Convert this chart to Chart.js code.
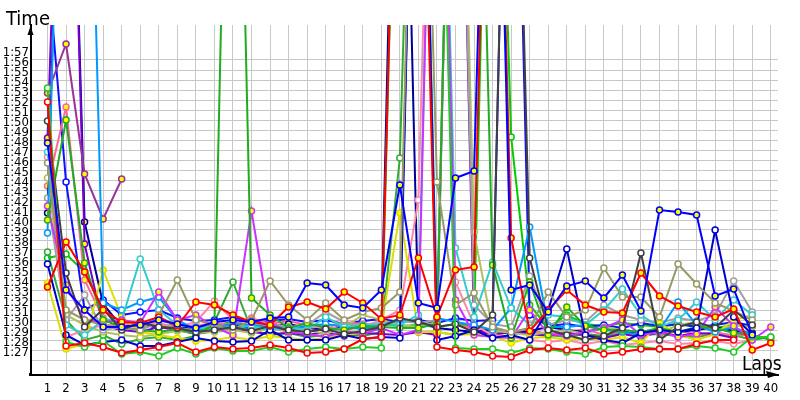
<!DOCTYPE html>
<html>
<head>
<meta charset="utf-8">
<script src="https://cdn.jsdelivr.net/npm/chart.js@4.4.1/dist/chart.umd.min.js"></script>
<style>
  html, body { margin: 0; padding: 0; background: #fff; }
</style>
</head>
<body>
<canvas id="laps" width="800" height="400"></canvas>
<script>
const laps = [1, 2, 3, 4, 5, 6, 7, 8, 9, 10, 11, 12, 13, 14, 15, 16, 17, 18, 19, 20,
  21, 22, 23, 24, 25, 26, 27, 28, 29, 30, 31, 32, 33, 34, 35, 36, 37, 38, 39, 40];

// y tick marks, in seconds (1:27 .. 1:57)
const timeTicks = [87, 88, 89, 90, 91, 92, 93, 94, 95, 96, 97, 98, 99, 100, 101, 102,
  103, 104, 105, 106, 107, 108, 109, 110, 111, 112, 113, 114, 115, 116, 117];

// lap times in seconds, one array per driver (values above ~120 run off the top)
const blueY = [108.7, 94.0, 92.0, 90.3, 90.3, 90.5, 91.0, 90.6, 90.2, 90.8, 91.0, 90.8, 91.2, 91.3, 94.7, 94.5, 92.5, 92.2, 94.0, 104.5, 92.7, 92.2, 105.2, 105.9, 170, 94.0, 94.5, 91.8, 94.4, 94.9, 93.2, 95.5, 91.9, 102.0, 101.8, 101.5, 93.4, 94.1, 89.5, null];
const redLow = [112.8, 88.4, 88.7, 88.3, 87.7, 88.0, 88.3, 88.7, 87.8, 88.3, 88.1, 88.2, 88.5, 88.2, 87.7, 87.8, 88.1, 89.1, 89.3, 160, 160, 88.3, 88.0, 87.8, 87.4, 87.3, 88.0, 88.2, 88.0, 88.2, 87.6, 87.8, 88.1, 88.1, 88.1, 88.6, 89.0, 89.0, null, null];
const greenLow = [114.2, 88.8, 88.3, 88.9, 87.6, 87.8, 87.4, 88.2, 87.6, 88.2, 87.9, 87.9, 88.3, 87.8, 88.1, 88.3, 88.1, 88.3, 88.2, 160, 160, 160, 88.2, 88.1, 88.1, 87.7, 88.2, 88.1, 87.8, 87.6, 88.3, 88.4, 88.3, 88.1, 88.1, 88.4, 88.2, 87.8, 89.3, 89.3];
const redY = [94.3, 98.8, 95.8, 92.0, 90.8, 90.7, 91.3, 90.4, 92.8, 92.5, 91.5, 90.8, 90.5, 92.3, 92.8, 92.1, 93.8, 92.7, 91.1, 91.5, 97.2, 91.3, 96.0, 96.3, 170, 99.2, 89.9, 92.0, 94.0, 92.5, 91.8, 91.7, 95.7, 93.4, 92.4, 91.8, 91.3, 92.1, 88.0, 88.7];
const olive = [106.7, 92.0, 91.0, 90.5, 90.2, 90.0, 91.5, 95.0, 91.0, 90.5, 90.0, 91.0, 94.9, 92.5, 91.0, 92.7, 91.0, 91.8, 92.2, 93.8, 170, 104.8, 92.5, 93.7, 90.3, 89.8, 90.2, 93.8, 91.3, 92.0, 96.2, 93.3, 93.3, 91.3, 96.6, 94.6, 92.7, 91.9, 91.0, null];
const darkGray = [110.9, 95.7, 90.3, 92.1, 90.0, 90.8, 90.3, 90.2, 89.8, 90.0, 90.3, 89.9, 90.4, 90.0, 89.8, 90.1, 89.6, 89.9, 90.3, 91.2, 90.8, 90.3, 90.6, 89.8, 91.5, 170, 97.2, 90.0, 89.5, 89.0, 89.4, 90.2, 97.7, 89.0, 90.3, 90.8, 90.2, 92.0, 90.5, null];
const cyan = [107.8, 90.5, 89.5, 91.0, 91.0, 97.1, 92.0, 90.5, 90.3, 90.0, 90.2, 90.4, 90.0, 90.3, 90.0, 91.3, 90.3, 90.5, 90.6, 90.5, 91.5, 170, 98.2, 91.3, 96.8, 92.2, 90.5, 91.5, 91.3, 90.5, 92.0, 94.1, 91.5, 90.3, 91.0, 92.8, 91.0, 93.0, 91.5, null];
const skyBlue = [99.7, 165, 165, 92.7, 92.0, 92.8, 93.3, 91.0, 90.0, 90.2, 90.6, 90.5, 90.3, 90.0, 90.4, 90.6, 90.3, 90.1, 90.5, 91.0, 170, 91.2, 90.8, 90.5, 90.0, 92.2, 100.3, 90.3, 90.3, 90.5, 90.0, 89.8, 89.5, 90.0, 92.8, 90.5, 89.8, 90.3, 89.5, null];
const greenY = [101.0, 111.0, 96.7, 91.0, 90.3, 90.0, 89.8, 90.1, 89.6, 90.5, 175, 93.2, 91.5, 90.2, 90.7, 90.2, 90.0, 90.4, 90.3, 90.2, 90.2, 90.6, 170, 170, 96.5, 89.2, 94.8, 89.5, 92.3, 90.4, 90.0, 90.0, 89.8, 90.2, 89.8, 90.3, 90.2, 89.7, 89.5, 89.0];
const magenta = [102.4, 94.5, 91.0, 90.8, 91.0, 90.7, 93.8, 91.0, 91.5, 90.3, 89.5, 101.9, 90.7, 89.8, 89.6, 89.3, 89.9, 89.6, 90.2, 89.5, 90.0, 170, 93.0, 89.5, 89.3, 89.2, 92.0, 89.6, 89.4, 89.8, 90.2, 91.0, 89.5, 89.8, 89.3, 89.6, 92.3, 90.4, 89.0, 90.3];
const yellow = [94.7, 88.1, 88.6, 96.0, 91.3, 89.8, 89.5, 89.2, 88.9, 89.0, 89.3, 89.0, 89.4, 89.2, 89.0, 89.2, 89.5, 89.7, 90.3, 101.7, 89.8, 89.8, 89.5, 89.6, 89.4, 88.7, 89.2, 89.3, 89.0, 89.2, 89.0, 89.3, 88.7, 90.7, 89.5, 89.0, 89.6, 91.0, 91.5, null];
const purple = [113.7, 118.6, 105.6, 101.1, 105.1, null, null, null, null, null, null, null, null, null, null, null, null, null, null, null, null, null, null, null, null, null, null, null, null, null, null, null, null, null, null, null, null, null, null, null];
const blueW = [96.6, 89.5, 88.5, 88.8, 89.0, 88.4, 88.4, 88.8, 89.2, 88.9, 88.8, 88.9, 90.0, 89.0, 89.0, 89.0, 89.5, 89.1, 89.3, 89.2, 170, 89.0, 89.4, 90.0, 89.2, 89.5, 89.0, 92.0, 98.1, 89.5, 89.0, 88.7, 89.7, 90.0, 89.8, 90.2, 100.0, 91.3, 89.6, null];
const pink = [107.3, 89.3, 90.0, 90.5, 90.5, 90.8, 90.5, 90.3, 90.8, 92.9, 91.0, 90.8, 90.3, 90.0, 90.2, 90.4, 90.0, 90.3, 91.0, 92.0, 103.0, 170, 94.8, 90.5, 89.5, 89.3, 89.0, 88.8, 89.0, 88.6, 88.9, 88.5, 88.7, 88.9, 88.6, 88.7, 88.9, 88.6, 89.0, null];
const gray = [103.2, 91.0, 93.5, 90.0, 90.3, 90.0, 90.7, 90.2, 90.0, 90.5, 90.2, 90.0, 90.6, 90.3, 90.5, 91.8, 90.8, 90.3, 90.6, 90.9, 90.7, 91.0, 170, 92.5, 90.6, 90.3, 95.4, 90.5, 91.0, 90.8, 92.5, 91.5, 91.0, 90.7, 91.2, 90.9, 91.5, 94.9, 91.8, null];
const khaki = [105.2, 91.5, 90.5, 89.8, 89.5, 89.3, 89.6, 89.9, 89.7, 89.8, 90.0, 89.7, 90.2, 89.8, 90.0, 89.6, 90.3, 91.5, 91.0, 90.5, 90.3, 90.8, 170, 99.8, 90.0, 89.7, 89.5, 89.8, 90.0, 89.6, 90.3, 90.0, 89.8, 89.7, 90.5, 90.8, 89.9, 90.5, 90.3, null];
const violet = [109.2, 165, 98.6, 90.4, 90.0, 89.8, 90.3, 90.0, 89.6, 89.9, 90.1, 89.8, 89.6, 89.7, 89.5, 89.8, 89.4, 89.7, 89.6, 89.5, 89.8, 89.5, 170, 90.0, 89.5, 89.8, 89.6, 89.4, 89.7, 89.5, 89.2, 89.6, 89.3, 89.8, 89.4, 89.7, 89.6, 89.2, null, null];
const navy = [101.7, 165, 100.8, 92.6, 90.3, 90.6, 90.2, 90.4, 90.0, 90.3, 90.5, 90.1, 90.3, 90.6, 90.2, 90.0, 90.4, 90.1, 90.5, 170, 90.8, 90.2, 90.0, 89.8, 90.1, 89.6, 89.9, 90.3, 90.0, 89.8, 90.2, 89.9, 89.7, 90.1, 89.8, 90.0, 90.3, 89.9, 89.7, null];
const rose = [104.4, 112.3, 95.0, 91.2, 90.6, 90.3, 91.0, 90.5, 90.4, 90.7, 90.5, 91.2, 90.6, 90.9, 90.5, 90.3, 90.8, 90.6, 90.5, 90.7, 170, 170, 90.5, 90.2, 90.0, 89.7, 90.0, 89.6, 89.8, 90.1, 89.5, 89.9, 89.6, 89.7, 90.0, 89.5, 89.8, 89.4, 89.6, null];
const blue2 = [126.6, 104.8, 92.0, 93.0, 91.5, 91.8, 92.0, 91.2, 90.9, 91.0, 91.3, 90.7, 90.9, 91.1, 90.8, 91.0, 90.6, 90.9, 91.1, 90.8, 91.0, 90.7, 91.2, 90.9, 91.0, 170, 91.5, 90.4, 90.6, 90.3, 90.5, 90.2, 90.7, 90.4, 90.6, 90.3, 90.5, 90.8, 90.4, null];
const greenMid = [97.8, 91.0, 89.0, 89.5, 88.6, 89.1, 89.3, 89.0, 89.4, 90.8, 94.8, 90.0, 89.5, 89.7, 89.3, 89.5, 89.6, 89.4, 89.8, 107.2, 170, 89.8, 89.5, 89.7, 89.9, 89.6, 89.8, 89.5, 89.3, 89.6, 89.4, 89.7, 89.5, 89.6, 89.4, 89.3, 89.6, 89.5, 89.0, 89.3];
const lime = [97.2, 97.6, 95.8, 92.0, 90.5, 90.7, 90.3, 90.6, 90.2, 90.5, 90.8, 90.4, 90.6, 90.2, 90.5, 90.4, 90.7, 90.3, 90.6, 90.4, 90.5, 90.3, 90.6, 90.4, 170, 109.3, 92.5, 90.2, 91.5, 90.6, 90.4, 90.7, 90.5, 90.3, 90.6, 90.5, 90.2, 90.5, 90.4, null];

// line colour + marker fill for each driver, first one is drawn on top
const drivers = [
  [blueY, '#0000ff', '#ffff00'],
  [redY, '#ff0000', '#ffff00'],
  [redLow, '#ff0000', '#ffffff'],
  [greenLow, '#22cc22', '#ffffff'],
  [darkGray, '#404040', '#ffffff'],
  [olive, '#999966', '#ffffff'],
  [blueW, '#0000cc', '#ffffff'],
  [greenY, '#22aa22', '#ffff00'],
  [magenta, '#cc33ff', '#ffff00'],
  [cyan, '#33cccc', '#ffffff'],
  [skyBlue, '#0099ff', '#ffffff'],
  [yellow, '#dddd00', '#ffff00'],
  [purple, '#993399', '#ffff00'],
  [pink, '#ff88aa', '#ffffff'],
  [gray, '#a0a0a0', '#ffffff'],
  [khaki, '#b0c060', '#ffffff'],
  [violet, '#7700cc', '#ffff00'],
  [navy, '#000099', '#ffff00'],
  [rose, '#ff6699', '#ffff00'],
  [blue2, '#1010ff', '#ffffff'],
  [greenMid, '#33aa33', '#ffffff'],
  [lime, '#00cc00', '#ffffff']
];

const FONT = "'DejaVu Sans Condensed', 'Liberation Sans', sans-serif";

const datasets = drivers.map(([times, color, fill]) => ({
  data: laps.map((lap, i) => ({ x: lap, y: times[i] })),
  borderColor: color,
  borderWidth: 2,
  pointRadius: 3,
  pointBorderWidth: 1.5,
  pointBorderColor: color,
  pointBackgroundColor: fill,
  tension: 0,
  spanGaps: false
}));

// axis arrows, titles and the origin dot
const axisDecor = {
  id: 'axisDecor',
  afterDraw(chart) {
    const { ctx, chartArea: a } = chart;
    ctx.save();
    ctx.fillStyle = '#000';
    ctx.beginPath();
    ctx.moveTo(a.left - 0.5, a.top + 1);
    ctx.lineTo(a.left - 3.5, a.top + 10);
    ctx.lineTo(a.left + 2.5, a.top + 10);
    ctx.closePath();
    ctx.fill();
    ctx.beginPath();
    ctx.moveTo(779, a.bottom - 0.5);
    ctx.lineTo(766, a.bottom - 4);
    ctx.lineTo(768, a.bottom + 3);
    ctx.closePath();
    ctx.fill();
    ctx.fillRect(a.left - 2, a.bottom - 2, 3, 3);
    ctx.textBaseline = 'alphabetic';
    ctx.font = '20px ' + FONT;
    ctx.fillText('Time', 6, 25);
    ctx.font = '19px ' + FONT;
    ctx.fillText('Laps', 742, 370);
    ctx.restore();
  }
};

new Chart(document.getElementById('laps'), {
  type: 'line',
  data: { datasets },
  plugins: [axisDecor],
  options: {
    responsive: false,
    animation: false,
    layout: { padding: { left: 0, top: 25, right: 22, bottom: 0 } },
    plugins: { legend: { display: false }, tooltip: { enabled: false } },
    scales: {
      x: {
        type: 'linear',
        min: 0.11,
        max: 40.39,
        afterBuildTicks: (scale) => { scale.ticks = laps.map(v => ({ value: v })); },
        afterFit: (scale) => { scale.height = 25; },
        grid: { color: '#c8c8c8', lineWidth: 1, drawTicks: false },
        border: { color: '#000', width: 2 },
        ticks: {
          color: '#000',
          font: { family: FONT, size: 13 },
          padding: 6,
          maxRotation: 0,
          autoSkip: false
        }
      },
      y: {
        min: 85.5,
        max: 120.5,
        afterBuildTicks: (scale) => { scale.ticks = timeTicks.map(v => ({ value: v })); },
        afterFit: (scale) => { scale.width = 31; },
        grid: { color: '#c8c8c8', lineWidth: 1, drawTicks: false },
        border: { color: '#000', width: 2 },
        ticks: {
          color: '#000',
          font: { family: FONT, size: 13 },
          padding: 2,
          labelOffset: -7,
          autoSkip: false,
          callback: (v) => '1:' + String(v - 60).padStart(2, '0')
        }
      }
    }
  }
});
</script>
</body>
</html>
